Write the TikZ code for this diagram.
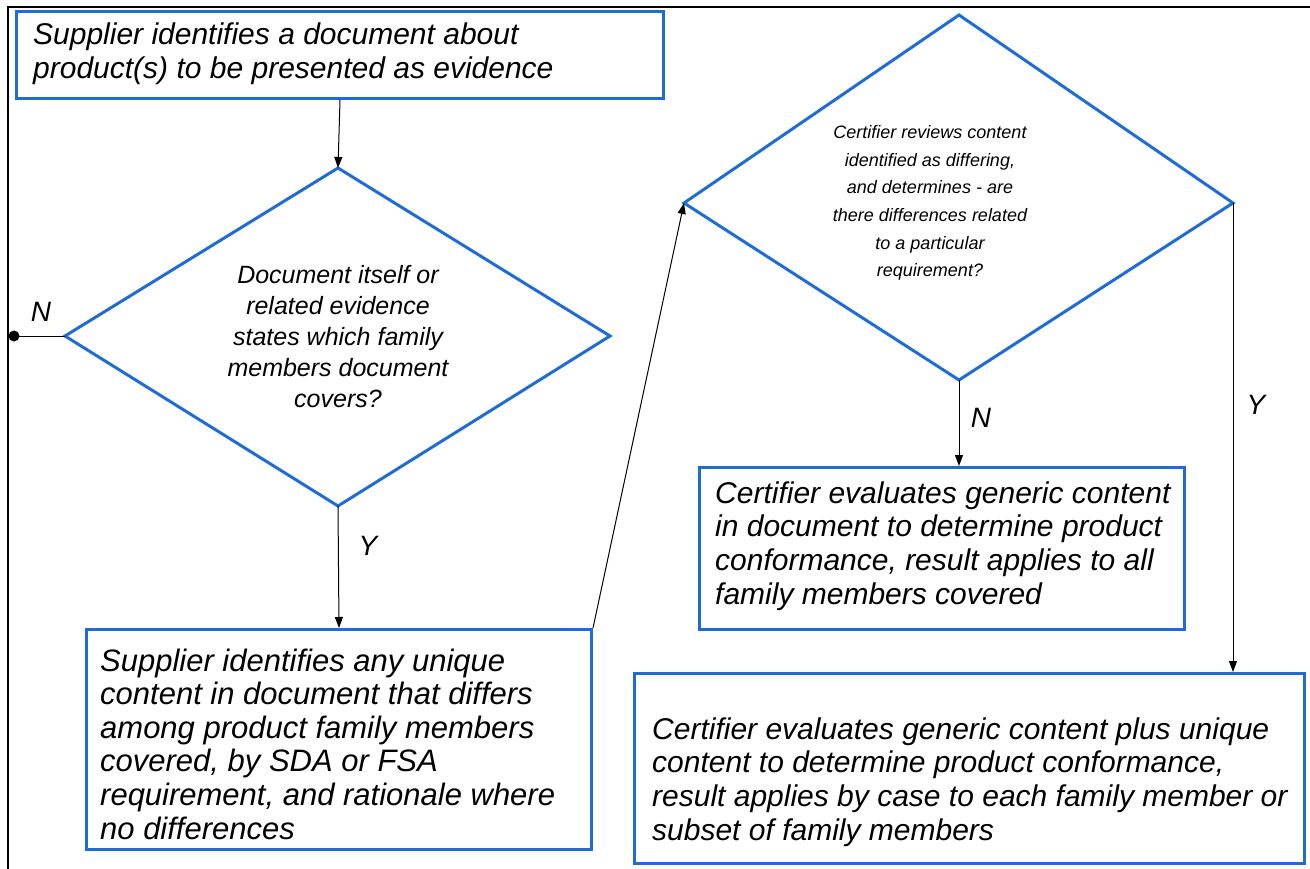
\documentclass[tikz,border=0pt]{standalone}
\usepackage{fontspec}
\setmainfont{Liberation Sans}
\usetikzlibrary{arrows.meta}
\definecolor{flowblue}{RGB}{31,108,214}
\begin{document}
\begin{tikzpicture}[x=1pt,y=-1pt,
  box/.style={draw=flowblue, line width=3pt, fill=white, inner sep=0pt, anchor=north west},
  dia/.style={draw=flowblue, line width=3pt, line join=miter},
  conn/.style={draw=black, line width=1pt, -{Triangle[length=11pt,width=8pt]}},
  btxt/.style={font=\fontsize{30}{33.7}\selectfont\itshape, align=left, anchor=west, inner sep=0pt},
  btxtbig/.style={btxt, font=\fontsize{31}{33.6}\selectfont\itshape},
  dtxt/.style={font=\fontsize{25}{31}\selectfont\itshape, align=center, inner sep=0pt},
  dtxtsmall/.style={font=\fontsize{18}{27.6}\selectfont\itshape, align=center, inner sep=0pt},
  lbl/.style={font=\fontsize{28}{30}\selectfont\itshape, inner sep=0pt}]
\useasboundingbox (0,0) rectangle (1310,869);
% outer frame (left and top edges visible)
\draw[line width=2pt] (8,869) -- (8,7) -- (1310,7);

% diamond 1 vertices
\coordinate (d1t) at (338,168);
\coordinate (d1l) at (65,336);
\coordinate (d1r) at (610,336);
\coordinate (d1b) at (338,506);
% diamond 2 vertices
\coordinate (d2t) at (959,15);
\coordinate (d2l) at (684,203);
\coordinate (d2r) at (1233,203);
\coordinate (d2b) at (959,380);

% boxes
\node[box, minimum width=647pt, minimum height=87pt] (b1) at (15,10) {};
\node[box, minimum width=505pt, minimum height=220pt] (b2) at (85,628) {};
\node[box, minimum width=485pt, minimum height=162pt] (b3) at (698,466) {};
\node[box, minimum width=670pt, minimum height=190pt] (b4) at (633,672) {};

% diamonds
\draw[dia] (d1t) -- (d1r) -- (d1b) -- (d1l) -- cycle;
\draw[dia] (d2t) -- (d2r) -- (d2b) -- (d2l) -- cycle;

% texts
\node[btxt] (t1) at (33,54) {Supplier identifies a document about\\product(s) to be presented as evidence};
\node[btxtbig] (t2) at (100,744) {Supplier identifies any unique\\content in document that differs\\among product family members\\covered, by SDA or FSA\\requirement, and rationale where\\no differences};
\node[btxt] (t3) at (715,546) {Certifier evaluates generic content\\in document to determine product\\conformance, result applies to all\\family members covered};
\node[btxt] (t4) at (652,782) {Certifier evaluates generic content plus unique\\content to determine product conformance,\\result applies by case to each family member or\\subset of family members};
\node[dtxt] (td1) at (338,337) {Document itself or\\related evidence\\states which family\\members document\\covers?};
\node[dtxtsmall] (td2) at (930,203) {Certifier reviews content\\identified as differing,\\and determines - are\\there differences related\\to a particular\\requirement?};

% connectors
\draw[conn] (b1.south) -- (d1t);
\coordinate (dot) at (14,336);
\draw[line width=1pt] (d1l) -- (dot);
\fill (dot) circle (5.5pt);
\node[lbl] (ln1) at (41,312) {N};
\draw[conn] (d1b) -- (b2.north);
\node[lbl] (ly1) at (368,546) {Y};
\draw[conn] (b2.north east) -- (d2l);
\draw[conn] (d2b) -- (d2b |- b3.north);
\node[lbl] (ln2) at (981,418) {N};
\draw[conn] (d2r) -- (d2r |- b4.north);
\node[lbl] (ly2) at (1256,405) {Y};
\end{tikzpicture}
\end{document}
